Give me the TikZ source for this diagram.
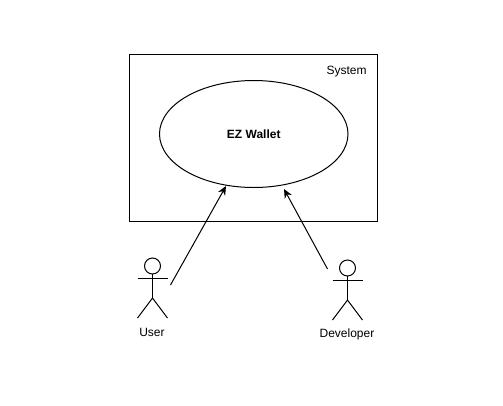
\documentclass[tikz,border=0pt]{standalone}
\usepackage{fontspec}
\setmainfont{Liberation Sans}
\usetikzlibrary{arrows.meta}
\usetikzlibrary{shapes.geometric}

\begin{document}
\begin{tikzpicture} [
        x=1pt, y=-1pt,
        line width=1pt,
        font=\fontsize{12}{14}\selectfont,
        sysbox/.style={draw, rectangle, minimum width=248pt, minimum height=166.5pt, inner sep=0pt, outer sep=0pt},
        usecase/.style={draw, ellipse, minimum width=188.5pt, minimum height=107pt, inner sep=0pt, outer sep=0pt, font=\fontsize{12}{14}\selectfont\bfseries},
        head/.style={draw, circle, minimum size=16pt, inner sep=0pt, outer sep=0pt},
        usearrow/.style={-{Stealth[length=9pt,width=8pt]}} ]
    \useasboundingbox (0,0) rectangle (503,405);
    \node[sysbox] (system) at (253.5,137.75) {};
    \node (systemlabel) at (346.5,71.5) {System};
    \node[usecase] (wallet) at (253.75,134) {\raisebox{-1.5pt}{EZ Wallet}};
    % user
    \node[head] (userhead) at (152.5,266) {};
    \coordinate (userhip) at (152.5,298);
    \coordinate (userhand) at (170.5,285);
    \draw (userhead.south) -- (userhip);
    \draw (137.5,278.5) -- (167.5,278.5);
    \draw (137.5,318) -- (userhip) -- (167.5,318);
    \node (userlabel) at (152,332.5) {User};
    % developer
    \node[head] (devhead) at (347.5,268) {};
    \coordinate (devhip) at (347.5,300);
    \coordinate (devhand) at (327.5,269);
    \draw (devhead.south) -- (devhip);
    \draw (332.5,280.5) -- (362.5,280.5);
    \draw (332.5,320) -- (devhip) -- (362.5,320);
    \node (devlabel) at (347,334.5) {Developer};
    % arrows
    \coordinate (wallet1) at (226,186);
    \coordinate (wallet2) at (284,189);
    \draw[usearrow] (userhand) -- (wallet1);
    \draw[usearrow] (devhand) -- (wallet2);
\end{tikzpicture}
\end{document}
